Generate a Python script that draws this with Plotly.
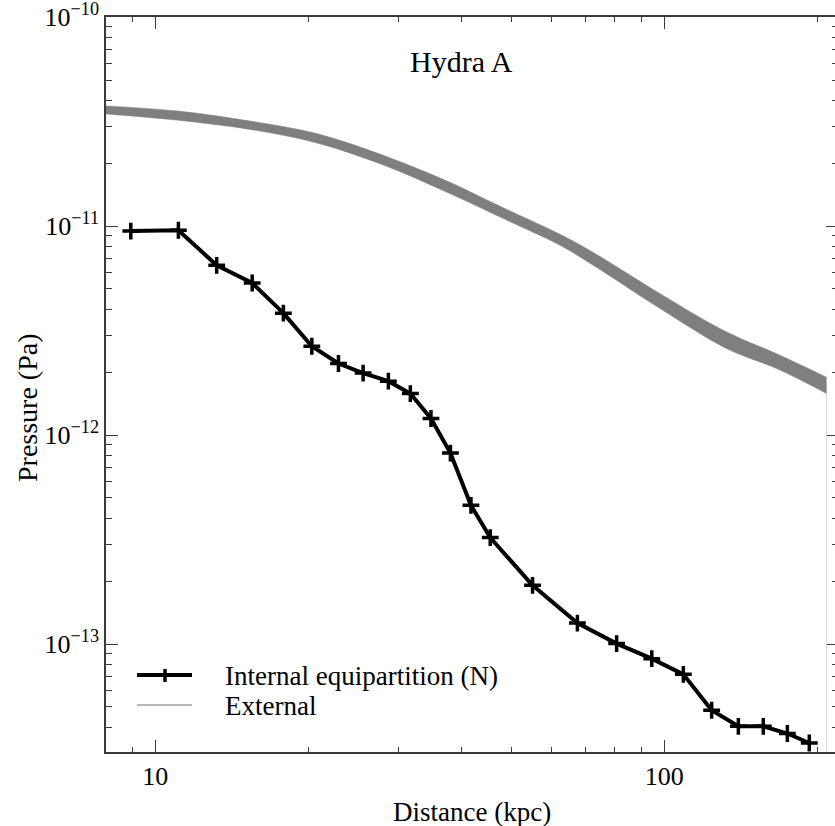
import plotly.graph_objects as go
import math

# ---------------- data ----------------
distance_internal = [8.95, 11.1, 13.2, 15.5, 17.85, 20.3, 22.9, 25.6, 28.7, 31.7, 34.8, 38.0,
                     41.7, 45.5, 55.1, 67.5, 80.6, 94.5, 109.0, 123.9, 139.8, 156.5, 174.5, 192.7]
pressure_internal = [9.46e-12, 9.55e-12, 6.49e-12, 5.34e-12, 3.83e-12, 2.66e-12, 2.20e-12, 1.98e-12,
                     1.81e-12, 1.58e-12, 1.20e-12, 8.20e-13, 4.61e-13, 3.23e-13, 1.91e-13, 1.26e-13,
                     1.005e-13, 8.51e-14, 7.16e-14, 4.82e-14, 4.04e-14, 4.04e-14, 3.73e-14, 3.36e-14]

distance_external = [8.0, 11.08, 15.36, 20.76, 28.05, 37.9, 47.6, 62.4, 72.5, 98.1, 132.7, 166.3, 208.4]
pressure_external_upper = [3.76e-11, 3.55e-11, 3.18e-11, 2.77e-11, 2.18e-11, 1.62e-11, 1.243e-11,
                           9.13e-12, 7.48e-12, 4.75e-12, 3.11e-12, 2.45e-12, 1.89e-12]
pressure_external_lower = [3.44e-11, 3.21e-11, 2.90e-11, 2.50e-11, 1.96e-11, 1.43e-11, 1.104e-11,
                           8.09e-12, 6.49e-12, 4.03e-12, 2.59e-12, 2.08e-12, 1.58e-12]

series_names = ["Internal equipartition (N)", "External"]

x_major_ticks = [10, 100]
x_major_labels = ["10", "100"]
y_major_ticks = [1e-13, 1e-12, 1e-11, 1e-10]
y_major_labels = ["10<sup>\u221213</sup>", "10<sup>\u221212</sup>", "10<sup>\u221211</sup>", "10<sup>\u221210</sup>"]

x_range = [math.log10(8.0), 2.3354]
y_range = [-13.5167, -9.9995]

x_minor = [m * 10 ** d for d in (0, 1, 2) for m in range(2, 10)]
y_minor = [m * 10 ** d for d in (-14, -13, -12, -11) for m in range(2, 10)]

FONT = "Liberation Serif"
AX = "#3a3a3a"
W, H = 835, 826
ML, MR, MT, MB = 106, 0, 17, 74
PW, PH = W - ML - MR, H - MT - MB


def px(xp):
    return (xp - ML) / PW


def py(yp):
    return (H - MB - yp) / PH


fig = go.Figure()

# external band
fig.add_trace(go.Scatter(x=distance_external, y=pressure_external_lower, mode="lines",
                         line=dict(color="#7f7f7f", width=0.5, shape="spline"),
                         showlegend=False, hoverinfo="skip"))
fig.add_trace(go.Scatter(x=distance_external, y=pressure_external_upper, mode="lines",
                         name=series_names[1],
                         line=dict(color="#7f7f7f", width=0.5, shape="spline"),
                         fill="tonexty", fillcolor="#7f7f7f",
                         showlegend=False, hoverinfo="skip"))

# internal equipartition
fig.add_trace(go.Scatter(x=distance_internal, y=pressure_internal, mode="lines+markers",
                         name=series_names[0], showlegend=False,
                         line=dict(color="black", width=4),
                         marker=dict(symbol="cross-thin", size=12, color="black",
                                     line=dict(color="black", width=3.5))))

# keeps the right-hand tick column alive
fig.add_trace(go.Scatter(x=[None], y=[None], mode="lines", showlegend=False,
                         hoverinfo="skip", yaxis="y2"))

shapes = [
    dict(type="line", xref="x", yref="y",
         x0=distance_external[-1], x1=distance_external[-1],
         y0=10 ** y_range[0], y1=pressure_external_lower[-1],
         line=dict(color="#d8d8d8", width=1)),
    # legend samples
    dict(type="line", xref="paper", yref="paper", x0=px(137), x1=px(192), y0=py(675), y1=py(675),
         line=dict(color="black", width=4)),
    dict(type="line", xref="paper", yref="paper", x0=px(165), x1=px(165), y0=py(669), y1=py(682),
         line=dict(color="black", width=3.5)),
    dict(type="line", xref="paper", yref="paper", x0=px(137), x1=px(192), y0=py(705), y1=py(705),
         line=dict(color="#b8b8b8", width=2)),
]

annotations = [
    dict(text="Hydra A", xref="paper", yref="paper", x=px(461), y=py(62),
         xanchor="center", yanchor="middle", showarrow=False,
         font=dict(family=FONT, size=30)),
    dict(text="Distance (kpc)", xref="paper", yref="paper", x=px(472), y=py(812),
         xanchor="center", yanchor="middle", showarrow=False,
         font=dict(family=FONT, size=27)),
    dict(text="Pressure (Pa)", xref="paper", yref="paper", x=px(27), y=py(408),
         xanchor="center", yanchor="middle", showarrow=False,
         textangle=-90, font=dict(family=FONT, size=28)),
    dict(text=series_names[0], xref="paper", yref="paper", x=px(223), y=py(676),
         xanchor="left", yanchor="middle", showarrow=False,
         font=dict(family=FONT, size=27)),
    dict(text=series_names[1], xref="paper", yref="paper", x=px(223), y=py(706),
         xanchor="left", yanchor="middle", showarrow=False,
         font=dict(family=FONT, size=27)),
]

fig.update_layout(
    width=W, height=H,
    margin=dict(l=ML, r=MR, t=MT, b=MB),
    paper_bgcolor="white", plot_bgcolor="white",
    font=dict(family=FONT, size=26, color="black"),
    showlegend=False,
    xaxis=dict(type="log", range=x_range, showgrid=False, zeroline=False,
               showline=True, linecolor=AX, linewidth=1.5, mirror="ticks",
               ticks="inside", ticklen=12, tickwidth=1.2, tickcolor=AX,
               tickmode="array", tickvals=x_major_ticks, ticktext=x_major_labels,
               tickfont=dict(family=FONT, size=26),
               minor=dict(tickmode="array", tickvals=x_minor, ticks="inside",
                          ticklen=5, tickwidth=1.2, tickcolor=AX, showgrid=False)),
    yaxis=dict(type="log", range=y_range, showgrid=False, zeroline=False,
               showline=True, linecolor=AX, linewidth=1.5, mirror=False,
               ticks="inside", ticklen=12, tickwidth=1.2, tickcolor=AX,
               tickmode="array", tickvals=y_major_ticks, ticktext=y_major_labels,
               tickfont=dict(family=FONT, size=26), ticklabeloverflow="allow",
               minor=dict(tickmode="array", tickvals=y_minor, ticks="inside",
                          ticklen=6, tickwidth=1.2, tickcolor=AX, showgrid=False)),
    yaxis2=dict(type="log", range=y_range, overlaying="y", side="right", anchor="x",
                showgrid=False, zeroline=False, showline=False, showticklabels=False,
                ticks="inside", ticklen=9, tickwidth=1.2, tickcolor=AX,
                tickmode="array", tickvals=y_major_ticks,
                minor=dict(tickmode="array", tickvals=y_minor, ticks="inside",
                           ticklen=3, tickwidth=1.2, tickcolor=AX, showgrid=False)),
    shapes=shapes,
    annotations=annotations,
)

fig.write_html("out.html")
